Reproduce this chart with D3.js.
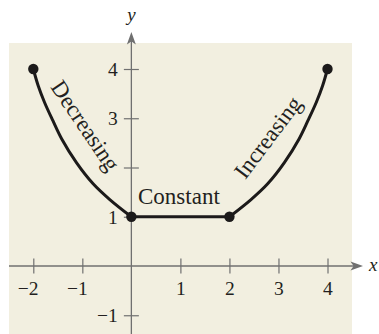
<!DOCTYPE html>
<html><head><meta charset="utf-8">
<script src="https://cdn.jsdelivr.net/npm/d3@7"></script>
<style>html,body{margin:0;padding:0;background:#fff;}svg{display:block;}</style>
</head><body>
<svg id="c" width="379" height="334"></svg>
<script>
// Data
const xTicks = [-2, -1, 1, 2, 3, 4];
const yTicks = [-1, 1, 2, 3, 4];
const yTickLabels = ["\u22121", "1", "", "3", "4"];
const decX = [-2, -1.9, -1.77, -1.6, -1.42, -1.12, -0.78, -0.44, 0];
const decY = [4, 3.66, 3.32, 2.95, 2.58, 2.1, 1.67, 1.35, 1];
const conX = [0, 2];
const conY = [1, 1];
const incX = [2, 2.44, 2.78, 3.12, 3.42, 3.6, 3.77, 3.9, 4];
const incY = [1, 1.35, 1.67, 2.1, 2.58, 2.95, 3.32, 3.66, 4];
const dotX = [-2, 0, 2, 4];
const dotY = [4, 1, 1, 4];
const labels = ["Decreasing", "Constant", "Increasing"];

const svg = d3.select("#c");
const x = d3.scaleLinear().domain([-2, 4]).range([33.3, 327.5]);
const y = d3.scaleLinear().domain([0, 4]).range([266, 69]);
const axisCol = "#707070";
const serif = "'Liberation Serif','Times New Roman',serif";
const ink = "#231f20";

// background panel
svg.append("rect").attr("x", 9).attr("y", 43).attr("width", 343).attr("height", 291).attr("fill", "#f2efe0");

// axes lines
const x0 = x(0), y0 = y(0);
svg.append("line").attr("x1", 9).attr("x2", 355).attr("y1", y0).attr("y2", y0).attr("stroke", axisCol).attr("stroke-width", 1.3);
svg.append("line").attr("x1", x0).attr("x2", x0).attr("y1", 334).attr("y2", 40).attr("stroke", axisCol).attr("stroke-width", 1.3);
// arrowheads
svg.append("path").attr("d", `M363,${y0} L350.5,${y0 - 4.5} L353.5,${y0} L350.5,${y0 + 4.5} Z`).attr("fill", axisCol);
svg.append("path").attr("d", `M${x0},32 L${x0 - 4.5},44.5 L${x0},41.5 L${x0 + 4.5},44.5 Z`).attr("fill", axisCol);

// x axis ticks via d3 axis
const gx = svg.append("g").attr("transform", `translate(0,${y0})`)
  .call(d3.axisBottom(x).tickValues(xTicks).tickSize(7.5).tickFormat(d => d < 0 ? "\u2212" + Math.abs(d) : String(d)));
gx.attr("font-size", null).attr("font-family", null);
gx.select(".domain").remove();
gx.selectAll(".tick line").attr("y1", -7.5).attr("y2", 7.5).attr("stroke", axisCol).attr("stroke-width", 1.2);
gx.selectAll(".tick text").attr("y", 29).attr("dy", 0).attr("x", 4.8).attr("text-anchor", "end")
  .style("font-family", serif).style("font-size", "19.5px").attr("fill", ink);

const gy = svg.append("g").attr("transform", `translate(${x0},0)`)
  .call(d3.axisLeft(y).tickValues(yTicks).tickSize(7.5).tickFormat((d, i) => yTickLabels[i]));
gy.attr("font-size", null).attr("font-family", null);
gy.select(".domain").remove();
gy.selectAll(".tick line").attr("x1", -7.5).attr("x2", 7.5).attr("stroke", axisCol).attr("stroke-width", 1.2);
gy.selectAll(".tick text").attr("x", -13.5).attr("dy", "0.34em").attr("text-anchor", "end")
  .style("font-family", serif).style("font-size", "19.5px").attr("fill", ink);

// axis labels
svg.append("text").attr("x", x0).attr("y", 21).attr("text-anchor", "middle").style("font-family", serif)
  .style("font-style", "italic").style("font-size", "19px").attr("fill", ink).text("y");
svg.append("text").attr("x", 369).attr("y", y0 + 4.5).style("font-family", serif)
  .style("font-style", "italic").style("font-size", "19px").attr("fill", ink).text("x");

// curves
const line = d3.line().x(d => x(d[0])).y(d => y(d[1])).curve(d3.curveCatmullRom.alpha(0.5));
const segs = [[decX, decY], [conX, conY], [incX, incY]];
segs.forEach(([xs, ys]) => {
  svg.append("path").datum(xs.map((v, i) => [v, ys[i]])).attr("d", line)
    .attr("fill", "none").attr("stroke", "#1c1a1a").attr("stroke-width", 3).attr("stroke-linecap", "round");
});
svg.selectAll("circle.dot").data(dotX.map((v, i) => [v, dotY[i]])).join("circle")
  .attr("cx", d => x(d[0])).attr("cy", d => y(d[1])).attr("r", 5.2).attr("fill", "#1c1a1a");

// curve labels
svg.append("text").attr("transform", "translate(79,130) rotate(56)").attr("text-anchor", "middle")
  .style("font-family", serif).style("font-size", "23px").attr("fill", ink).text(labels[0]);
svg.append("text").attr("x", 138).attr("y", 204)
  .style("font-family", serif).style("font-size", "23px").attr("fill", ink).text(labels[1]);
svg.append("text").attr("transform", "translate(274,142) rotate(-53)").attr("text-anchor", "middle")
  .style("font-family", serif).style("font-size", "23px").attr("fill", ink).text(labels[2]);
</script>
</body></html>
